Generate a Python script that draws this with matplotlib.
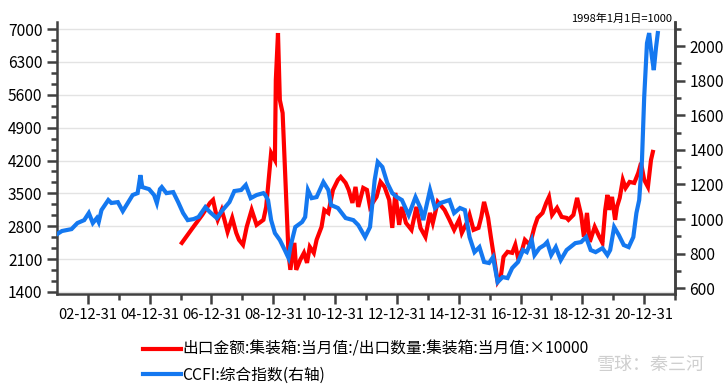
import matplotlib
matplotlib.use('Agg')
import matplotlib.pyplot as plt
import matplotlib.dates as mdates
from matplotlib.ticker import MultipleLocator
import pandas as pd

plt.rcParams['font.family'] = ['Noto Sans CJK SC', 'DejaVu Sans']

# CCFI composite index (right axis), decimal year / value
ccfiYears = [2002.00, 2002.16, 2002.47, 2002.66, 2002.88, 2003.03, 2003.16, 2003.29, 2003.35, 2003.44,
             2003.66, 2003.76, 2003.97, 2004.13, 2004.29, 2004.45, 2004.61, 2004.70, 2004.76, 2004.98,
             2005.14, 2005.23, 2005.33, 2005.39, 2005.54, 2005.76, 2005.92, 2006.08, 2006.23, 2006.42,
             2006.58, 2006.80, 2006.95, 2007.17, 2007.36, 2007.58, 2007.74, 2007.96, 2008.11, 2008.27,
             2008.46, 2008.68, 2008.74, 2008.83, 2008.93, 2009.05, 2009.21, 2009.37, 2009.49, 2009.55,
             2009.71, 2009.93, 2010.03, 2010.12, 2010.24, 2010.40, 2010.62, 2010.78, 2010.87, 2011.09,
             2011.34, 2011.59, 2011.75, 2011.97, 2012.13, 2012.28, 2012.38, 2012.53, 2012.69, 2012.85,
             2013.00, 2013.16, 2013.38, 2013.60, 2013.76, 2013.85, 2014.07, 2014.23, 2014.41, 2014.70,
             2014.85, 2015.04, 2015.20, 2015.35, 2015.51, 2015.67, 2015.82, 2015.98, 2016.11, 2016.26,
             2016.42, 2016.58, 2016.73, 2016.92, 2017.08, 2017.20, 2017.36, 2017.45, 2017.61, 2017.77,
             2017.86, 2017.99, 2018.14, 2018.30, 2018.49, 2018.77, 2018.96, 2019.12, 2019.27, 2019.43,
             2019.65, 2019.81, 2019.90, 2020.03, 2020.18, 2020.34, 2020.50, 2020.65, 2020.75, 2020.84,
             2020.93, 2021.00, 2021.09, 2021.16, 2021.25, 2021.31, 2021.38, 2021.44]
ccfiValues = [913, 931, 942, 977, 994, 1035, 977, 1006, 983, 1052,
              1110, 1093, 1098, 1046, 1093, 1139, 1150, 1254, 1185, 1173,
              1139, 1093, 1173, 1185, 1150, 1156, 1098, 1035, 994, 1000,
              1012, 1069, 1040, 1006, 1052, 1098, 1162, 1168, 1197, 1121,
              1139, 1150, 1139, 1110, 994, 919, 879, 821, 775, 838,
              954, 983, 1012, 1168, 1121, 1127, 1214, 1168, 1081, 1064,
              1006, 994, 965, 896, 954, 1225, 1330, 1301, 1208, 1150,
              1127, 1110, 1023, 1127, 1064, 994, 1168, 1064, 1093, 1110,
              1035, 1064, 1052, 896, 809, 838, 752, 746, 780, 636,
              665, 659, 717, 752, 821, 809, 879, 792, 832, 850,
              867, 792, 838, 763, 821, 861, 867, 896, 821, 809,
              832, 792, 821, 954, 908, 850, 838, 896, 1035, 1110,
              1341, 1705, 2017, 2075, 1936, 1861, 1988, 2075]

# export value / export quantity of containers x10000 (left axis)
exportYears = [2006.04, 2006.39, 2006.70, 2006.95, 2007.05, 2007.17, 2007.20, 2007.33, 2007.42, 2007.52,
               2007.67, 2007.80, 2007.89, 2008.02, 2008.14, 2008.30, 2008.46, 2008.68, 2008.77, 2008.93,
               2009.05, 2009.08, 2009.15, 2009.21, 2009.30, 2009.40, 2009.49, 2009.55, 2009.68, 2009.74,
               2009.87, 2009.99, 2010.09, 2010.18, 2010.31, 2010.40, 2010.56, 2010.65, 2010.78, 2010.93,
               2011.09, 2011.18, 2011.34, 2011.44, 2011.56, 2011.66, 2011.75, 2011.91, 2012.03, 2012.13,
               2012.34, 2012.47, 2012.60, 2012.75, 2012.85, 2012.95, 2013.07, 2013.16, 2013.29, 2013.47,
               2013.63, 2013.76, 2013.92, 2014.07, 2014.16, 2014.32, 2014.54, 2014.70, 2014.85, 2015.01,
               2015.10, 2015.26, 2015.35, 2015.48, 2015.64, 2015.73, 2015.82, 2015.95, 2016.04, 2016.14,
               2016.26, 2016.36, 2016.45, 2016.58, 2016.73, 2016.83, 2016.92, 2017.05, 2017.14, 2017.30,
               2017.45, 2017.55, 2017.71, 2017.83, 2017.92, 2018.02, 2018.18, 2018.33, 2018.49, 2018.55,
               2018.71, 2018.83, 2018.96, 2019.05, 2019.15, 2019.24, 2019.40, 2019.55, 2019.65, 2019.74,
               2019.81, 2019.87, 2019.96, 2020.06, 2020.12, 2020.21, 2020.31, 2020.40, 2020.53, 2020.68,
               2020.81, 2020.90, 2021.00, 2021.12, 2021.22, 2021.28]
exportValues = [2446, 2765, 3042, 3297, 3361, 2999, 2936, 3148, 2936, 2680,
                2978, 2659, 2510, 2404, 2787, 3148, 2829, 2936, 3212, 4361,
                4212, 5915, 6915, 5489, 5212, 3638, 2233, 1872, 2446, 1872,
                2084, 2233, 2020, 2361, 2233, 2510, 2787, 3148, 3084, 3574,
                3787, 3851, 3723, 3574, 3297, 3638, 3212, 3616, 3574, 3212,
                3425, 3744, 3638, 3361, 2765, 3510, 2829, 3212, 2872, 2723,
                3212, 2765, 2574, 3084, 2872, 3319, 3148, 2936, 2723, 2936,
                2659, 2872, 3042, 2723, 2765, 2999, 3319, 2978, 2574, 2148,
                1616, 1723, 2148, 2255, 2233, 2404, 2127, 2297, 2510, 2404,
                2787, 2978, 3084, 3297, 3425, 3042, 3191, 2999, 2978, 2936,
                3042, 3404, 3042, 2574, 3084, 2467, 2787, 2574, 2446, 3148,
                3468, 3148, 3425, 2936, 3212, 3404, 3787, 3616, 3744, 3723,
                3936, 4148, 3787, 3638, 4212, 4383]

leftTicks = [1400, 2100, 2800, 3500, 4200, 4900, 5600, 6300, 7000]
rightTicks = [600, 800, 1000, 1200, 1400, 1600, 1800, 2000]
xTickYears = [2002, 2004, 2006, 2008, 2010, 2012, 2014, 2016, 2018, 2020]

labelRed = '出口金额:集装箱:当月值:/出口数量:集装箱:当月值:×10000'
labelBlue = 'CCFI:综合指数(右轴)'


def toDates(years):
    out = []
    for y in years:
        base = pd.Timestamp(int(y), 1, 1)
        out.append(base + pd.Timedelta(days=(y - int(y)) * 365.25))
    return out


spineColor = '#404040'
fig = plt.figure(figsize=(7.28, 3.87), dpi=100)
ax = fig.add_axes([57 / 728, 1 - 294 / 387, 618 / 728, 272 / 387])
ax2 = ax.twinx()

lineRed, = ax.plot(toDates(exportYears), exportValues, color='#ff0000', lw=3.0,
                   solid_joinstyle='miter', label=labelRed)
lineBlue, = ax2.plot(toDates(ccfiYears), ccfiValues, color='#1478f0', lw=3.0,
                     solid_joinstyle='miter', label=labelBlue)

ax.set_xlim(pd.Timestamp(2002, 1, 1), pd.Timestamp(2021, 5, 15))
ax.set_ylim(1357, 7150)
ax2.set_ylim(567, 2139)

ax.set_yticks(leftTicks)
ax.yaxis.set_minor_locator(MultipleLocator(700 / 3))
ax2.set_yticks(rightTicks)
ax2.yaxis.set_minor_locator(MultipleLocator(100))

ax.set_xticks([pd.Timestamp(y, 12, 31) for y in xTickYears])
ax.set_xticks([pd.Timestamp(y + 1, 12, 31) for y in xTickYears], minor=True)
ax.xaxis.set_major_formatter(mdates.DateFormatter('%y-%m-%d'))

ax.grid(axis='y', color='#e3e3e3', lw=1.0)
ax.set_axisbelow(True)

for a in (ax, ax2):
    a.spines['top'].set_visible(False)
    for s in ('left', 'right', 'bottom'):
        a.spines[s].set_color(spineColor)
        a.spines[s].set_linewidth(1.8)
    a.tick_params(which='major', length=7, width=1.8, color=spineColor, labelsize=11.2)
    a.tick_params(which='minor', length=4, width=1.8, color=spineColor)
ax.tick_params(axis='x', which='major', labelsize=10.6, pad=3)
ax2.spines['left'].set_visible(False)
ax2.spines['bottom'].set_visible(False)

fig.text(672 / 728, 1 - 19 / 387, '1998年1月1日=1000', fontsize=8, ha='right', va='center')

fig.legend(handles=[lineRed, lineBlue], loc='upper left', bbox_to_anchor=(143 / 728, 1 - 341 / 387),
           frameon=False, fontsize=11.3, handlelength=2.4, handletextpad=0.1, labelspacing=0.55,
           borderpad=0, borderaxespad=0)

fig.text(705 / 728, 1 - 365 / 387, '雪球：秦三河', fontsize=13, color='#cfcfcf', ha='right', va='center')

fig.savefig('out.png', dpi=100)
